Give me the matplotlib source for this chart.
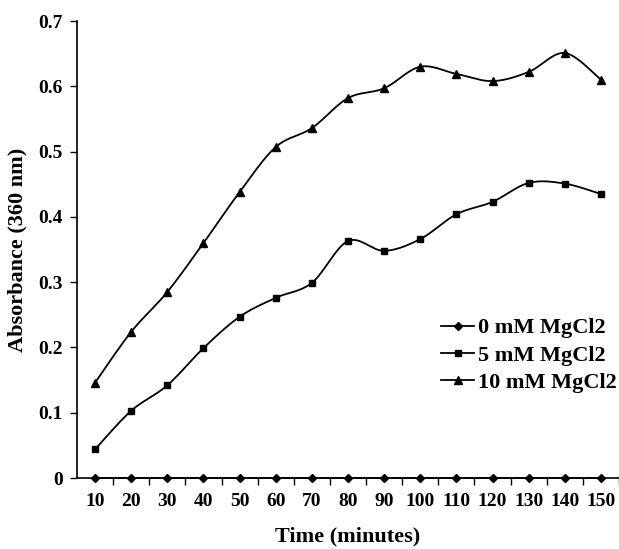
import numpy as np
import matplotlib
matplotlib.use("Agg")
import matplotlib.pyplot as plt
from matplotlib.lines import Line2D

plt.rcParams['font.family'] = ['Liberation Serif', 'DejaVu Serif']
plt.rcParams['font.weight'] = 'bold'

time = [10, 20, 30, 40, 50, 60, 70, 80, 90, 100, 110, 120, 130, 140, 150]
mg0 = [0, 0, 0, 0, 0, 0, 0, 0, 0, 0, 0, 0, 0, 0, 0]
mg5 = [0.044, 0.103, 0.142, 0.199, 0.247, 0.276, 0.299, 0.363, 0.348, 0.366,
       0.404, 0.423, 0.452, 0.451, 0.435]
mg10 = [0.146, 0.224, 0.285, 0.360, 0.438, 0.507, 0.536, 0.582, 0.597, 0.630,
        0.619, 0.608, 0.622, 0.651, 0.610]

labels = ['0 mM MgCl2', '5 mM MgCl2', '10 mM MgCl2']
markers = ['D', 's', '^']
msizes = [4, 5, 6]


def smooth(x, y, n=20):
    # Catmull-Rom style curve through the points (like Excel's smoothed line)
    x = np.asarray(x, float)
    y = np.asarray(y, float)
    px = np.concatenate([[x[0]], x, [x[-1]]])
    py = np.concatenate([[y[0]], y, [y[-1]]])
    xs, ys = [], []
    t = np.linspace(0, 1, n)
    for i in range(1, len(px) - 2):
        p0, p1, p2, p3 = (np.array([px[j], py[j]]) for j in range(i - 1, i + 3))
        c1 = p1 + (p2 - p0) / 6
        c2 = p2 - (p3 - p1) / 6
        b = ((1 - t) ** 3)[:, None] * p1 + (3 * (1 - t) ** 2 * t)[:, None] * c1 \
            + (3 * (1 - t) * t ** 2)[:, None] * c2 + (t ** 3)[:, None] * p2
        xs.extend(b[:, 0])
        ys.extend(b[:, 1])
    return xs, ys


fig = plt.figure(figsize=(6.19, 5.49), dpi=100)
ax = fig.add_axes([0.1244, 0.1293, 0.8756, 0.8324])

handles = []
for ys, lab, m, ms in zip([mg0, mg5, mg10], labels, markers, msizes):
    sx, sy = smooth(time, ys)
    ax.plot(sx, sy, color='black', lw=1.3, clip_on=False)
    ax.plot(time, ys, ls='none', marker=m, ms=ms, color='black', clip_on=False)
    handles.append(Line2D([], [], color='black', lw=1.3, marker=m, ms=ms))

ax.set_xlim(5, 155)
ax.set_ylim(0, 0.7)
ax.set_xticks(time)
ax.set_xticks(np.arange(15, 156, 10), minor=True)
ax.tick_params(axis='x', which='major', length=0, pad=11, labelsize=14)
ax.tick_params(axis='x', which='minor', length=5, width=1, direction='out')
ax.set_yticks(np.arange(0, 0.71, 0.1))
ax.set_yticklabels(['0', '0.1', '0.2', '0.3', '0.4', '0.5', '0.6', '0.7'])
ax.tick_params(axis='y', length=5, width=1, direction='out', labelsize=14, pad=5)

for s in ['top', 'right']:
    ax.spines[s].set_visible(False)
for s in ['left', 'bottom']:
    ax.spines[s].set_linewidth(1.2)

ax.set_xlabel('Time (minutes)', fontsize=16, fontweight='bold', labelpad=12)
ax.set_ylabel('Absorbance (360 nm)', fontsize=16, fontweight='bold', labelpad=8)

ax.legend(handles, labels, loc='upper left', bbox_to_anchor=(0.655, 0.37),
          frameon=False, fontsize=16, handlelength=1.5, handletextpad=0.15,
          labelspacing=0.3, borderaxespad=0)

fig.savefig('out.png', dpi=100)
